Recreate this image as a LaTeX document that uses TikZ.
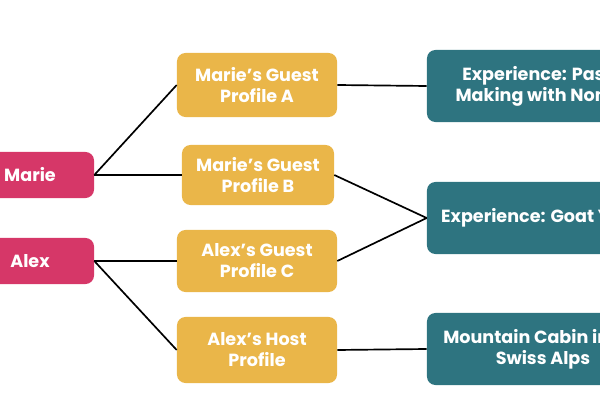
\documentclass[tikz,border=0pt]{standalone}
\usepackage{fontspec}
\setmainfont{Poppins}
\usetikzlibrary{positioning}
\definecolor{guestpink}{HTML}{D63768}
\definecolor{profyellow}{HTML}{EAB649}
\definecolor{listteal}{HTML}{2E7480}
\tikzset{
  box/.style={rounded corners=6pt, text=white, font=\bfseries\fontsize{12.5}{15}\selectfont, align=center, inner sep=0pt},
  user/.style={box, fill=guestpink, minimum width=3.2cm, minimum height=1.15cm},
  profile/.style={box, fill=profyellow, minimum width=4cm, minimum height=1.6cm},
  listing/.style={box, fill=listteal, minimum width=5.8cm, minimum height=1.8cm},
  link/.style={line width=1.2pt, black}
}
\begin{document}
\begin{tikzpicture}[x=0.025cm, y=-0.025cm]
  \useasboundingbox (0,0) rectangle (600,400);
  % Users
  \node[user] (marie) at (30,175) {Marie};
  \node[user] (alex) at (30,261) {Alex};
  % Profiles
  \node[profile] (pa) at (257,85) {Marie’s Guest\\Profile A};
  \node[profile, minimum width=3.8cm, minimum height=1.5cm] (pb) at (258,175) {Marie’s Guest\\Profile B};
  \node[profile, minimum height=1.55cm] (pc) at (257,261) {Alex’s Guest\\Profile C};
  \node[profile, minimum height=1.65cm] (ph) at (257,350) {Alex’s Host\\Profile};
  % Listings
  \node[listing] (pasta) at (543,86) {Experience: Pasta\\Making with Nonna};
  \node[listing] (goat) at (543,218) {Experience: Goat Yoga};
  \node[listing] (cabin) at (543,349) {Mountain Cabin in the\\Swiss Alps};
  % Links
  \draw[link] (marie.east) -- (pa.west);
  \draw[link] (marie.east) -- (pb.west);
  \draw[link] (alex.east) -- (pc.west);
  \draw[link] (alex.east) -- (ph.west);
  \draw[link] (pa.east) -- (pasta.west);
  \draw[link] (pb.east) -- (goat.west);
  \draw[link] (pc.east) -- (goat.west);
  \draw[link] (ph.east) -- (cabin.west);
\end{tikzpicture}
\end{document}
